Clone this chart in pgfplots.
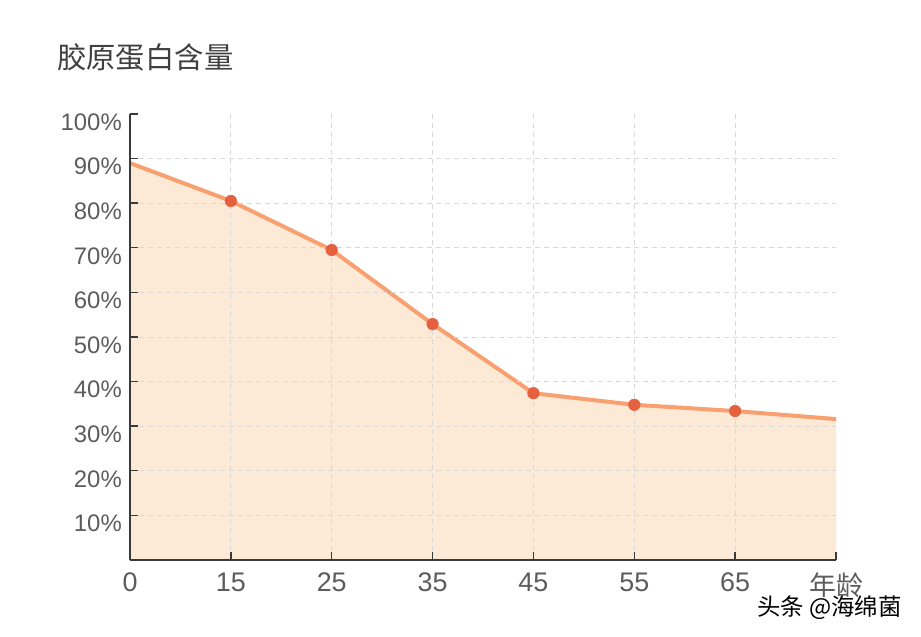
\documentclass[border=0pt]{standalone}
\usepackage{pgfplots}
\pgfplotsset{compat=1.18}
\usepackage{fontspec}
\setmainfont{Noto Sans CJK SC}
\newfontfamily\numfont{Liberation Sans}
\newfontfamily\cjk{Noto Sans CJK SC}

\definecolor{areafill}{HTML}{FDEAD6}
\definecolor{lineor}{HTML}{F8A070}
\definecolor{dotred}{HTML}{E4603F}
\definecolor{gridgray}{HTML}{D9D9D9}
\definecolor{axisdark}{HTML}{3A3A3A}
\definecolor{labgray}{HTML}{5C5C5C}

\begin{document}
\begin{tikzpicture}
\useasboundingbox (-130bp,-77bp) rectangle (791bp,560bp);

\begin{axis}[
    at={(0,0)}, anchor=origin,
    scale only axis,
    width=706bp, height=446bp,
    xmin=0, xmax=7, ymin=0, ymax=100,
    axis lines*=left,
    axis on top,
    axis line style={axisdark, line width=1.4bp},
    tick align=inside,
    major tick length=8bp,
    tick style={axisdark, line width=1.4bp},
    xtick={0,...,6},
    xticklabels={0,15,25,35,45,55,65},
    extra x ticks={7},
    extra x tick labels={{\cjk\fontsize{27}{27}\selectfont 年龄}},
    extra x tick style={grid=none},
    ytick={10,20,...,90},
    yticklabels={10\%,20\%,30\%,40\%,50\%,60\%,70\%,80\%,90\%},
    extra y ticks={100},
    extra y tick labels={100\%},
    extra y tick style={grid=none},
    grid=major,
    major grid style={gridgray, line width=0.9bp, dash pattern=on 5bp off 4bp},
    ticklabel style={text=labgray},
    yticklabel style={font=\numfont\fontsize{24}{24}\selectfont,
        anchor=east, inner sep=0pt, xshift=-8bp, yshift=-8bp},
    xticklabel style={font=\numfont\fontsize{27}{27}\selectfont,
        anchor=north, inner sep=0pt, yshift=-13bp},
    /pgf/number format/assume math mode=true,
    clip=false,
]

\addplot[fill=areafill, draw=none] coordinates {
    (0, 89.0) (1, 80.5) (2, 69.5) (3, 52.9)
    (4, 37.4) (5, 34.8) (6, 33.4) (7, 31.6)
} \closedcycle;

\addplot[lineor, line width=4bp, line join=round,
    mark=*, mark indices={2,...,7}, mark size=5.8bp,
    mark options={solid, draw=dotred, fill=dotred, line width=0.5bp}] coordinates {
    (0, 89.0) (1, 80.5) (2, 69.5) (3, 52.9)
    (4, 37.4) (5, 34.8) (6, 33.4) (7, 31.6)
};

\end{axis}

\node[anchor=west, inner sep=0pt, text=black!75, font=\fontsize{29.5}{30}\selectfont]
    at (-73bp, 503bp) {胶原蛋白含量};
\node[anchor=west, inner sep=0pt, text=black, font=\fontsize{23.5}{24}\selectfont]
    at (627bp, -48bp) {头条 @海绵菌};
\end{tikzpicture}
\end{document}
